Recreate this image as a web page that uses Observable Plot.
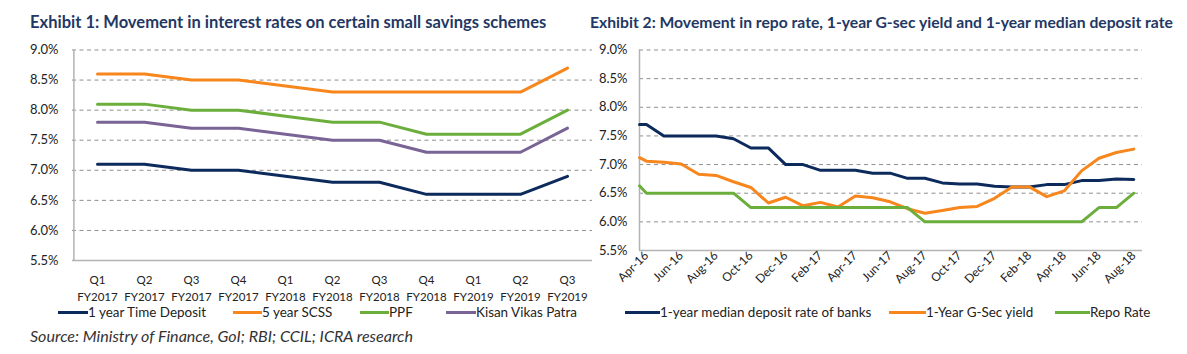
<!DOCTYPE html>
<html>
<head>
<meta charset="utf-8">
<script src="https://cdn.jsdelivr.net/npm/d3@7"></script>
<script src="https://cdn.jsdelivr.net/npm/@observablehq/plot@0.6"></script>
<style>
  body { margin: 0; background: #fff; font-family: Lato, "Open Sans", sans-serif; }
  #wrap { position: relative; width: 1187px; height: 354px; overflow: hidden; background: #fff; }
  .title { position: absolute; top: 13px; font-weight: bold; color: #1f3864; font-size: 16px; white-space: nowrap; line-height: 1.2; }
  .chart { position: absolute; top: 40px; }
  .legend { position: absolute; left: 0; top: 303px; height: 18px; font-size: 13px; color: #222; white-space: nowrap; }
  .item { position: absolute; top: 0; display: flex; align-items: center; height: 18px; }
  .sw { display: inline-block; height: 3px; flex: none; }
  .source { position: absolute; left: 30px; top: 326px; font-style: italic; font-size: 16px; color: #333; white-space: nowrap; line-height: 1.2; }
</style>
</head>
<body>
<div id="wrap">
  <div class="title" id="t1" style="left:30px"></div>
  <div class="title" id="t2" style="left:590px"></div>
  <div class="chart" id="c1" style="left:0px"></div>
  <div class="chart" id="c2" style="left:590px"></div>
  <div class="legend" id="l1"></div>
  <div class="legend" id="l2"></div>
  <div class="source" id="src"></div>
</div>
<script>
// ---------- Exhibit 1 data ----------
const title1 = "Exhibit 1:  Movement in interest rates on certain small savings schemes";
const quarterLabels = ["Q1", "Q2", "Q3", "Q4", "Q1", "Q2", "Q3", "Q4", "Q1", "Q2", "Q3"];
const fyLabels = ["FY2017", "FY2017", "FY2017", "FY2017", "FY2018", "FY2018", "FY2018", "FY2018", "FY2019", "FY2019", "FY2019"];
const seriesNames1 = ["1 year Time Deposit", "5 year SCSS", "PPF", "Kisan Vikas Patra"];
const timeDeposit = [7.1, 7.1, 7.0, 7.0, 6.9, 6.8, 6.8, 6.6, 6.6, 6.6, 6.9];
const scss = [8.6, 8.6, 8.5, 8.5, 8.4, 8.3, 8.3, 8.3, 8.3, 8.3, 8.7];
const ppf = [8.1, 8.1, 8.0, 8.0, 7.9, 7.8, 7.8, 7.6, 7.6, 7.6, 8.0];
const kvp = [7.8, 7.8, 7.7, 7.7, 7.6, 7.5, 7.5, 7.3, 7.3, 7.3, 7.7];
const colors1 = ["#0d2a5c", "#f7861c", "#6cae3c", "#7a6496"];

// ---------- Exhibit 2 data ----------
const title2 = "Exhibit 2:  Movement in repo rate, 1-year G-sec yield and 1-year median deposit rate";
const months = ["Apr-16", "May-16", "Jun-16", "Jul-16", "Aug-16", "Sep-16", "Oct-16", "Nov-16", "Dec-16",
  "Jan-17", "Feb-17", "Mar-17", "Apr-17", "May-17", "Jun-17", "Jul-17", "Aug-17", "Sep-17", "Oct-17",
  "Nov-17", "Dec-17", "Jan-18", "Feb-18", "Mar-18", "Apr-18", "May-18", "Jun-18", "Jul-18", "Aug-18"];
const seriesNames2 = ["1-year median deposit rate of banks", "1-Year G-Sec yield", "Repo Rate"];
const depositRate = [7.70, 7.50, 7.50, 7.50, 7.50, 7.45, 7.29, 7.29, 7.00, 7.00, 6.90, 6.90, 6.90, 6.85, 6.85,
  6.76, 6.76, 6.68, 6.66, 6.66, 6.62, 6.61, 6.61, 6.65, 6.65, 6.72, 6.72, 6.75, 6.74];
const gsecYield = [7.06, 7.04, 7.01, 6.83, 6.81, 6.70, 6.60, 6.33, 6.43, 6.28, 6.34, 6.26, 6.45, 6.42, 6.35,
  6.23, 6.15, 6.20, 6.25, 6.27, 6.41, 6.61, 6.61, 6.44, 6.54, 6.89, 7.11, 7.21, 7.27];
const repoRate = [6.50, 6.50, 6.50, 6.50, 6.50, 6.50, 6.25, 6.25, 6.25, 6.25, 6.25, 6.25, 6.25, 6.25, 6.25,
  6.25, 6.00, 6.00, 6.00, 6.00, 6.00, 6.00, 6.00, 6.00, 6.00, 6.00, 6.25, 6.25, 6.50];
// values at the very start of the period (1 April 2016), where the lines begin on the axis
const openingValues = [7.70, 7.12, 6.63];
const openingOffset = -0.4; // start of Apr-16, in months relative to the Apr-16 point
const colors2 = ["#0d2a5c", "#f7861c", "#6cae3c"];

const yTicks = [5.5, 6.0, 6.5, 7.0, 7.5, 8.0, 8.5, 9.0];
const sourceText = "Source: Ministry of Finance, GoI; RBI; CCIL; ICRA research";

document.getElementById("t1").textContent = title1;
document.getElementById("t2").textContent = title2;
document.getElementById("src").textContent = sourceText;

const fmtPct = d => d.toFixed(1) + "%";
const gridColor = "#8f8f8f";
const axisColor = "#b3b3b3";
const font = "Lato, 'Open Sans', sans-serif";

// ---------- Chart 1 ----------
const qKeys = quarterLabels.map((q, i) => q + "\n" + fyLabels[i]);
const series1 = [timeDeposit, scss, ppf, kvp];
const data1 = series1.flatMap((vals, s) => vals.map((v, i) => ({ q: qKeys[i], v, s: seriesNames1[s] })));

const chart1 = Plot.plot({
  width: 600, height: 268,
  marginLeft: 72, marginRight: 8, marginTop: 9.5, marginBottom: 48,
  style: { fontFamily: font, fontSize: "13px", color: "#222", background: "transparent", overflow: "visible" },
  x: { type: "point", domain: qKeys, padding: 0.5, label: null },
  y: { domain: [5.5, 9.0], label: null },
  color: { domain: seriesNames1, range: colors1 },
  marks: [
    Plot.gridY(yTicks.filter(d => d > 5.5), { stroke: gridColor, strokeOpacity: 1, strokeDasharray: "4,3.5" }),
    Plot.ruleY([5.5], { stroke: axisColor, strokeWidth: 1.5 }),
    Plot.ruleX([qKeys[0]], { y1: 5.5, y2: 9.0, stroke: axisColor, strokeWidth: 1.5, dx: -23.6 }),
    Plot.axisY({ ticks: yTicks, tickFormat: fmtPct, tickSize: 0, tickPadding: 14 }),
    Plot.axisX({ tickSize: 0, tickPadding: 12, lineHeight: 1.45, fontSize: 11.5 }),
    Plot.lineY(data1, { x: "q", y: "v", stroke: "s", strokeWidth: 3 })
  ]
});
document.getElementById("c1").appendChild(chart1);

// ---------- Chart 2 ----------
const series2 = [depositRate, gsecYield, repoRate];
const data2 = series2.flatMap((vals, s) => [
  { t: openingOffset, v: openingValues[s], s: seriesNames2[s] },
  ...vals.map((v, i) => ({ t: i, v, s: seriesNames2[s] }))
]);
const monthTicks = months.map((m, i) => i).filter(i => i % 2 === 0);

const chart2 = Plot.plot({
  width: 597, height: 262,
  marginLeft: 49, marginRight: 45, marginTop: 9.5, marginBottom: 52,
  style: { fontFamily: font, fontSize: "13px", color: "#222", background: "transparent", overflow: "visible" },
  x: { type: "linear", domain: [openingOffset, months.length - 0.5], label: null },
  y: { domain: [5.5, 9.0], label: null },
  color: { domain: seriesNames2, range: colors2 },
  marks: [
    Plot.gridY(yTicks.filter(d => d > 5.5), { stroke: gridColor, strokeOpacity: 1, strokeDasharray: "4,3.5" }),
    Plot.ruleY([5.5], { stroke: axisColor, strokeWidth: 1.5 }),
    Plot.ruleX([openingOffset], { y1: 5.5, y2: 9.0, stroke: axisColor, strokeWidth: 1.5 }),
    Plot.axisY({ ticks: yTicks, tickFormat: fmtPct, tickSize: 0, tickPadding: 12 }),
    Plot.axisX({ ticks: monthTicks, tickFormat: i => months[i], tickSize: 0, tickPadding: 3, tickRotate: -45, fontSize: 12 }),
    Plot.lineY(data2, { x: "t", y: "v", stroke: "s", strokeWidth: 3 })
  ]
});
document.getElementById("c2").appendChild(chart2);

// ---------- Legends ----------
function legend(id, names, colors, swatchLefts, swatchWidths) {
  const el = document.getElementById(id);
  const texts = [];
  names.forEach((n, i) => {
    const item = document.createElement("div");
    item.className = "item";
    item.style.left = swatchLefts[i] + "px";
    const sw = document.createElement("span");
    sw.className = "sw";
    sw.style.width = swatchWidths[i] + "px";
    sw.style.background = colors[i];
    const tx = document.createElement("span");
    tx.textContent = n;
    item.appendChild(sw);
    item.appendChild(tx);
    el.appendChild(item);
    texts.push(tx);
  });
  return texts;
}
const lt1 = legend("l1", seriesNames1, colors1, [58, 233, 360, 446], [30, 29, 29, 30]);
const lt2 = legend("l2", seriesNames2, colors2, [625, 889, 1055], [35, 37, 35]);

// scale text sizes so widths match the reference layout
function fit(el, target) {
  const size = parseFloat(getComputedStyle(el).fontSize);
  const w = el.getBoundingClientRect().width;
  if (w > 0) el.style.fontSize = (size * target / w).toFixed(2) + "px";
}
fit(document.getElementById("t1"), 517);
fit(document.getElementById("t2"), 583);
fit(document.getElementById("src"), 383);
fit(lt1[0], 118);
const legendSize = lt1[0].style.fontSize;
lt1.forEach(t => t.style.fontSize = legendSize);
lt2.forEach(t => t.style.fontSize = legendSize);
</script>
</body>
</html>
